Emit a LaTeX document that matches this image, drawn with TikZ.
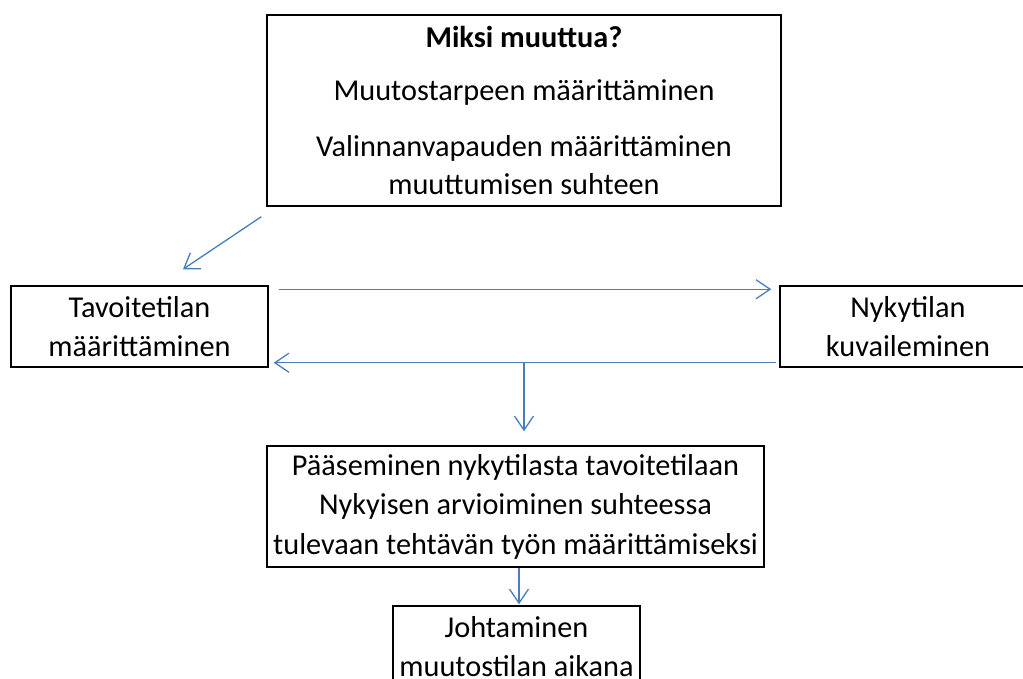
\documentclass[tikz,border=0pt]{standalone}
\usepackage{fontspec}
\setmainfont{Carlito}
\usetikzlibrary{arrows.meta,calc}
\definecolor{arrowblue}{HTML}{4A7EBB}
\begin{document}
\begin{tikzpicture}[x=1pt,y=-1pt,
  box/.style={draw=black,line width=1.5pt,inner sep=0pt,align=center,
    font=\fontsize{30.3}{39.5}\selectfont},
  conn/.style={draw=arrowblue,line width=1.3pt,
    -{Straight Barb[length=14pt,width=19pt]}}]
\useasboundingbox (0,0) rectangle (1023,679);
\clip (0,0) rectangle (1023,679);
\node[box,minimum width=514pt,minimum height=191pt] (why) at (524,110.5)
  {\textbf{Miksi muuttua?}\\[13pt]
   Muutostarpeen määrittäminen\\[17pt]
   Valinnanvapauden määrittäminen\\[-1.5pt]
   muuttumisen suhteen};
\node[box,minimum width=257pt,minimum height=81pt] (goal) at (139.5,326.5)
  {Tavoitetilan\\ määrittäminen};
\node[box,minimum width=256pt,minimum height=81pt] (now) at (908,326.5)
  {Nykytilan\\ kuvaileminen};
\node[box,minimum width=497pt,minimum height=121pt] (path) at (515.5,506.5)
  {Pääseminen nykytilasta tavoitetilaan\\
   Nykyisen arvioiminen suhteessa\\
   tulevaan tehtävän työn määrittämiseksi};
\node[box,minimum width=247pt,minimum height=81pt] (lead) at (516.5,646.5)
  {Johtaminen\\ muutostilan aikana};
\draw[conn] ($(why.south west)+(-5,10)$) -- ($(goal.north)+(43.5,-16)$);
\draw[conn] ($(goal.north east)+(10,4)$) -- ($(now.north west)+(-8,4)$);
\draw[conn] ($(now.south west)+(-3,-5)$) -- ($(goal.south east)+(5,-5)$);
\coordinate (splitat) at (524,362);
\draw[conn] (splitat) -- ($(splitat |- path.north)+(0,-14)$);
\draw[conn] ($(path.south)+(3.5,0)$) -- ($(lead.north)+(2.5,-1)$);
\end{tikzpicture}
\end{document}
